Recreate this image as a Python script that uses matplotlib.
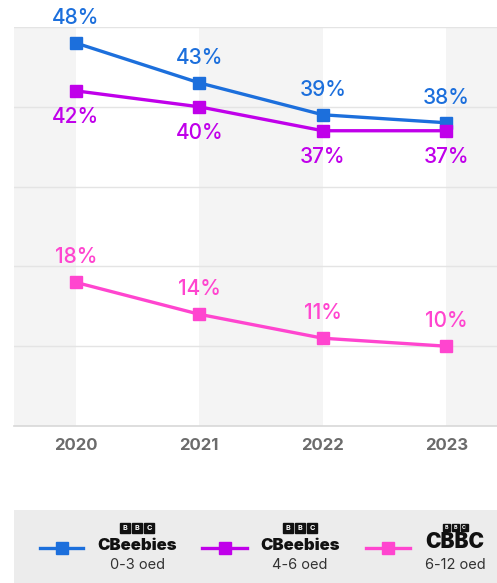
import matplotlib
matplotlib.use("Agg")
import matplotlib.pyplot as plt
from matplotlib.lines import Line2D
from matplotlib.patches import Rectangle

years = ["2020", "2021", "2022", "2023"]
cbeebies_0_3 = [48, 43, 39, 38]
cbeebies_4_6 = [42, 40, 37, 37]
cbbc_6_12 = [18, 14, 11, 10]

series_names = ["CBeebies", "CBeebies", "CBBC"]
series_ages = ["0-3 oed", "4-6 oed", "6-12 oed"]
colors = ["#1c6fdc", "#c000ea", "#ff45cf"]
label_side = ["above", "below", "above"]

plt.rcParams["font.family"] = ["Inter", "DejaVu Sans"]

W, H = 497, 583
fig = plt.figure(figsize=(W / 100, H / 100), dpi=100)

ax = fig.add_axes([14 / W, 1 - 426 / H, 1 - 14 / W, (426 - 27) / H])
x = list(range(len(years)))
ax.set_xlim(-0.5, 3.41)
ax.set_ylim(0, 50)

# alternating column bands
for lo, hi in [(-0.5, 0), (1, 2), (3, 3.6)]:
    ax.axvspan(lo, hi, color="#f4f4f4", zorder=0, lw=0)
for yv in range(10, 51, 10):
    ax.axhline(yv, color="#e4e4e4", lw=1, zorder=1)

for vals, col, side in zip([cbeebies_0_3, cbeebies_4_6, cbbc_6_12], colors, label_side):
    ax.plot(x, vals, color=col, lw=2.4, marker="s", markersize=8, zorder=3)
    for xi, v in zip(x, vals):
        dy = 18 if side == "above" else -19
        ax.annotate(f"{v}%", (xi, v), xytext=(0, dy), textcoords="offset points",
                    ha="center", va="center", color=col, fontsize=15,
                    fontweight="medium", annotation_clip=False, zorder=4)

ax.set_xticks(x)
ax.set_xticklabels(years, fontsize=12, fontweight="bold", color="#6b6b6b")
ax.tick_params(axis="x", length=0, pad=9)
ax.set_yticks([])
for s in ["top", "left", "right"]:
    ax.spines[s].set_visible(False)
ax.spines["bottom"].set_color("#d8d8d8")
ax.spines["bottom"].set_linewidth(1.2)

# legend panel
lg = fig.add_axes([14 / W, 0, 1 - 14 / W, 73 / H])
lg.set_xlim(14, 497)
lg.set_ylim(583, 510)
lg.axis("off")
lg.add_patch(Rectangle((14, 510), 483, 73, color="#ececec", zorder=0))

handle_x = [(40, 83), (202, 247), (366, 410)]
logo_cx = [137, 300, 455]
for i, col in enumerate(colors):
    x0, x1 = handle_x[i]
    lg.add_line(Line2D([x0, x1], [548, 548], color=col, lw=2.4))
    lg.plot([(x0 + x1) / 2], [548], marker="s", color=col, markersize=8)
    cx = logo_cx[i]
    if series_names[i] == "CBBC":
        size, gap, ly = 7, 9, 527
        name_fs, name_y = 15, 542
    else:
        size, gap, ly = 9.5, 12, 528
        name_fs, name_y = 12, 545
    for j, letter in enumerate("BBC"):
        bx = cx + (j - 1) * gap
        lg.add_patch(Rectangle((bx - size / 2, ly - size / 2), size, size,
                               color="#111111", zorder=2))
        lg.text(bx, ly + 0.3, letter, color="white", fontsize=size * 0.55,
                fontweight="bold", ha="center", va="center", zorder=3)
    lg.text(cx, name_y, series_names[i], fontsize=name_fs, fontweight="black",
            ha="center", va="center", color="#111111")
    lg.text(cx, 565, series_ages[i], fontsize=10.5, ha="center", va="center",
            color="#333333")

fig.savefig("out.png", dpi=100)
